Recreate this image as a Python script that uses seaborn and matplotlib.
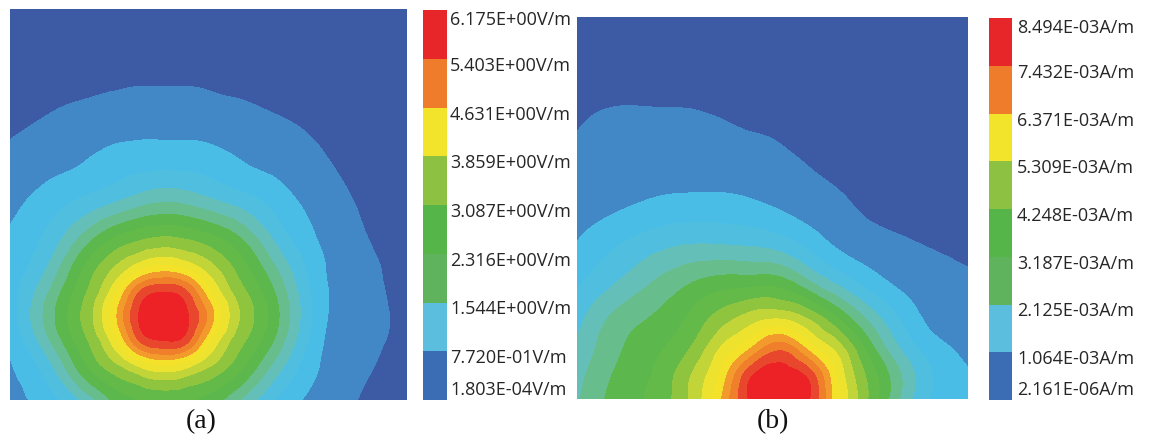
import numpy as np
import matplotlib
matplotlib.use("Agg")
import matplotlib.pyplot as plt
import matplotlib.tri as mtri
from matplotlib.colors import ListedColormap, BoundaryNorm
import seaborn as sns

# ---------------------------------------------------------------------------
# Field samples.  Positions are in percent of the map width / height,
# rows run from the bottom edge of the map to the top edge.
# ---------------------------------------------------------------------------

# (a) electric field strength, V/m
e_x = [0, 10, 19, 27, 33, 38.5, 44, 50, 58, 67, 79, 90, 100]
e_y = [0, 9.5, 15.5, 21.2, 27, 33, 41, 51, 61, 71, 81, 91, 100]
e_field = [
    [0.64, 1.00, 1.64, 2.44, 2.73, 2.82, 2.77, 2.54, 1.90, 1.12, 0.58, 0.34, 0.19],
    [0.75, 1.49, 2.69, 3.48, 4.09, 4.38, 4.17, 3.59, 2.85, 1.81, 0.71, 0.415, 0.24],
    [0.81, 1.92, 3.02, 4.22, 5.51, 5.81, 5.63, 4.37, 3.21, 2.23, 0.77, 0.45, 0.26],
    [0.95, 2.13, 3.21, 4.62, 5.86, 6.175, 5.89, 4.89, 3.44, 2.41, 0.84, 0.47, 0.27],
    [0.97, 1.98, 3.06, 4.28, 5.54, 5.84, 5.59, 4.44, 3.26, 2.28, 0.85, 0.46, 0.27],
    [0.96, 1.65, 2.79, 3.61, 4.27, 4.55, 4.34, 3.73, 2.94, 1.97, 0.80, 0.44, 0.25],
    [0.84, 1.30, 2.12, 2.79, 3.05, 3.17, 3.09, 2.87, 2.35, 1.46, 0.70, 0.39, 0.23],
    [0.63, 0.95, 1.23, 1.50, 1.73, 1.86, 1.80, 1.61, 1.34, 0.98, 0.55, 0.33, 0.20],
    [0.46, 0.62, 0.77, 0.94, 1.00, 1.02, 1.01, 0.96, 0.78, 0.63, 0.41, 0.27, 0.17],
    [0.32, 0.42, 0.50, 0.56, 0.60, 0.61, 0.60, 0.56, 0.50, 0.42, 0.30, 0.19, 0.13],
    [0.19, 0.27, 0.32, 0.355, 0.37, 0.37, 0.37, 0.355, 0.32, 0.27, 0.19, 0.14, 0.09],
    [0.13, 0.16, 0.19, 0.20, 0.21, 0.21, 0.21, 0.20, 0.19, 0.16, 0.12, 0.08, 0.06],
    [0.08, 0.10, 0.12, 0.13, 0.14, 0.14, 0.14, 0.13, 0.12, 0.10, 0.08, 0.06, 0.04],
]
e_legend = [1.803e-4, 0.772, 1.544, 2.316, 3.087, 3.859, 4.631, 5.403, 6.175]
e_labels = ["1.803E-04V/m", "7.720E-01V/m", "1.544E+00V/m", "2.316E+00V/m",
            "3.087E+00V/m", "3.859E+00V/m", "4.631E+00V/m", "5.403E+00V/m",
            "6.175E+00V/m"]

# (b) magnetic field strength, stored in units of 1E-03 A/m
h_x = [0, 11, 21, 30, 38, 45, 52, 59, 66, 74, 83, 92, 100]
h_y = [0, 6.5, 13, 21, 30, 39, 50, 60, 71, 81, 90, 100]
h_field = [
    [2.58, 3.42, 3.95, 4.97, 6.61, 8.13, 8.494, 8.03, 6.08, 4.30, 2.53, 1.45, 1.22],
    [2.43, 3.29, 3.85, 4.85, 6.23, 7.89, 8.20, 7.76, 5.90, 4.16, 2.61, 1.50, 1.11],
    [2.21, 3.14, 3.65, 4.38, 5.53, 6.50, 7.32, 6.29, 5.19, 3.61, 2.07, 1.25, 0.89],
    [1.92, 2.87, 3.30, 3.90, 4.59, 5.07, 5.26, 4.75, 3.83, 2.60, 1.52, 0.84, 0.65],
    [1.53, 2.20, 2.78, 3.24, 3.51, 3.57, 3.50, 2.85, 2.13, 1.46, 0.94, 0.67, 0.58],
    [1.13, 1.67, 2.07, 2.28, 2.27, 2.21, 2.04, 1.57, 1.10, 0.81, 0.63, 0.52, 0.45],
    [0.83, 1.02, 1.23, 1.30, 1.29, 1.19, 1.02, 0.82, 0.65, 0.47, 0.36, 0.29, 0.26],
    [0.65, 0.75, 0.80, 0.81, 0.79, 0.74, 0.68, 0.55, 0.44, 0.32, 0.23, 0.18, 0.16],
    [0.52, 0.62, 0.62, 0.61, 0.56, 0.51, 0.45, 0.33, 0.28, 0.21, 0.15, 0.12, 0.09],
    [0.42, 0.45, 0.44, 0.43, 0.38, 0.34, 0.30, 0.23, 0.18, 0.15, 0.10, 0.06, 0.055],
    [0.31, 0.31, 0.31, 0.30, 0.27, 0.25, 0.21, 0.15, 0.13, 0.10, 0.06, 0.046, 0.036],
    [0.23, 0.23, 0.23, 0.21, 0.18, 0.16, 0.14, 0.10, 0.08, 0.06, 0.05, 0.03, 0.02],
]
h_legend = [2.161e-6, 1.064, 2.125, 3.187, 4.248, 5.309, 6.371, 7.432, 8.494]
h_labels = ["2.161E-06A/m", "1.064E-03A/m", "2.125E-03A/m", "3.187E-03A/m",
            "4.248E-03A/m", "5.309E-03A/m", "6.371E-03A/m", "7.432E-03A/m",
            "8.494E-03A/m"]

captions = ["(a)", "(b)"]

# ---------------------------------------------------------------------------
# Colours: 16 fill shades for the map (two per legend band), 8 for the bar
# ---------------------------------------------------------------------------
map_colors = ["#3D5AA5", "#4388C6", "#4ABDE6", "#50BEDF", "#63BFB8", "#67BD8C",
              "#5CB84C", "#64BA48", "#8FC43F", "#C2D538", "#EDE32E", "#F4E22A",
              "#F29A2B", "#EF7F2B", "#E8472D", "#EC2227"]
bar_colors = ["#3B6DB4", "#5BBEDE", "#5EB35C", "#55B548", "#8DC141", "#F2E42B",
              "#EE7C2A", "#E7262A"]

sns.set_theme(style="white")
plt.rcParams["font.family"] = ["Open Sans", "DejaVu Sans"]

W, H = 1156, 446
fig = plt.figure(figsize=(W / 100, H / 100), dpi=100)
fig.patch.set_facecolor("white")


def box(x0, y0, x1, y1):
    """Pixel box (top-left origin) -> figure fraction rectangle."""
    return [x0 / W, 1 - y1 / H, (x1 - x0) / W, (y1 - y0) / H]


def draw_map(rect, xs, ys, field, legend):
    ax = fig.add_axes(rect)
    gx, gy = np.meshgrid(np.asarray(xs, float), np.asarray(ys, float))
    z = np.asarray(field, float)
    tri = mtri.Triangulation(gx.ravel(), gy.ravel())
    fine_tri, fine_z = mtri.UniformTriRefiner(tri).refine_field(z.ravel(), subdiv=4)
    leg = np.asarray(legend, float)
    levels = np.sort(np.concatenate([leg, (leg[:-1] + leg[1:]) / 2]))
    eps = 1e-6 * (levels[-1] - levels[0])
    fine_z = np.clip(fine_z, levels[0] + eps, levels[-1] - eps)
    cs = ax.tricontourf(fine_tri, fine_z, levels=levels, colors=map_colors)
    # stroke each band in its own colour so no light seams show between bands
    cs.set_edgecolor("face")
    cs.set_linewidth(0.6)
    ax.set_xlim(0, 100)
    ax.set_ylim(0, 100)
    ax.set_axis_off()
    return ax


def draw_bar(rect, legend, labels, label_x):
    cax = fig.add_axes(rect)
    cmap = ListedColormap(bar_colors)
    norm = BoundaryNorm(legend, cmap.N)
    cb = fig.colorbar(plt.cm.ScalarMappable(norm=norm, cmap=cmap), cax=cax)
    cb.outline.set_visible(False)
    cb.set_ticks([])
    cb.ax.minorticks_off()
    cb.ax.tick_params(which="both", length=0, labelright=False, labelleft=False)
    # labels sit a little below each band boundary, kept inside the bar
    x0, y0, w, h = rect
    n = len(legend) - 1
    for i, lab in enumerate(labels):
        frac = i / n
        y_fig = y0 + frac * h - 7 / H
        y_fig = min(max(y_fig, y0 + 10 / H), y0 + h - 10 / H)
        fig.text(label_x / W, y_fig, lab, ha="left", va="center",
                 fontsize=13, color="#262626")


draw_map(box(10, 9, 407, 400), e_x, e_y, e_field, e_legend)
draw_bar(box(423, 10, 447, 400), e_legend, e_labels, 450)

draw_map(box(577, 17, 968, 399), h_x, h_y, h_field, h_legend)
draw_bar(box(989, 18, 1012, 400), h_legend, h_labels, 1017)

for cx, cap in zip([201, 773], captions):
    fig.text(cx / W, 1 - 422 / H, cap, ha="center", va="center",
             fontsize=20, family="Liberation Serif", color="#111111")

fig.savefig("out.png", dpi=100, facecolor="white")
